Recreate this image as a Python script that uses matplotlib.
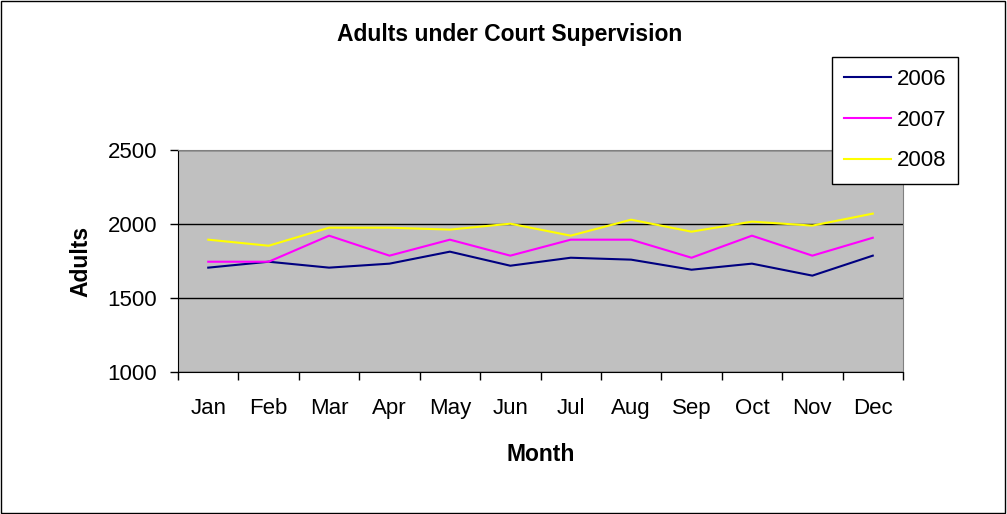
import matplotlib.pyplot as plt
from matplotlib.patches import Rectangle
from matplotlib.ticker import FixedLocator

plt.rcParams['font.family'] = ['Liberation Sans', 'DejaVu Sans']

months = ["Jan", "Feb", "Mar", "Apr", "May", "Jun",
          "Jul", "Aug", "Sep", "Oct", "Nov", "Dec"]
y2006 = [1705, 1745, 1705, 1732, 1813, 1718, 1772, 1759, 1691, 1732, 1651, 1786]
y2007 = [1745, 1745, 1921, 1786, 1894, 1786, 1894, 1894, 1772, 1921, 1786, 1907]
y2008 = [1894, 1853, 1975, 1975, 1962, 2002, 1921, 2029, 1948, 2016, 1989, 2070]


def main():
    fig = plt.figure(figsize=(10.07, 5.14), dpi=100)
    ax = fig.add_axes([0.1768, 0.2763, 0.7199, 0.4319])
    ax.set_facecolor("#C0C0C0")

    x = list(range(len(months)))
    ax.plot(x, y2006, color="#000080", lw=1.5, label="2006")
    ax.plot(x, y2007, color="#FF00FF", lw=1.5, label="2007")
    ax.plot(x, y2008, color="#FFFF00", lw=1.5, label="2008")

    ax.set_xlim(-0.5, 11.5)
    ax.set_ylim(1000, 2500)
    ax.set_yticks([1000, 1500, 2000, 2500])
    ax.set_xticks(x)
    ax.set_xticklabels(months)
    ax.xaxis.set_minor_locator(FixedLocator([i - 0.5 for i in range(13)]))
    ax.tick_params(axis='x', which='major', length=0, pad=19, labelsize=16)
    ax.tick_params(axis='x', which='minor', length=6, width=1, direction='out')
    ax.tick_params(axis='y', length=6, width=1, direction='out', pad=9,
                   labelsize=16)

    ax.grid(axis='y', color="#000000", lw=1)
    ax.set_axisbelow(True)
    for s in ["top", "right"]:
        ax.spines[s].set_color("#808080")
    for s in ["left", "bottom"]:
        ax.spines[s].set_color("#000000")

    ax.set_xlabel("Month", fontsize=16.5, fontweight="bold", labelpad=17)
    ax.set_ylabel("Adults", fontsize=16.5, fontweight="bold", labelpad=11)
    fig.text(0.5065, 0.932, "Adults under Court Supervision",
             ha="center", va="center", fontsize=16.5, fontweight="bold")

    leg = fig.legend(loc="upper left", bbox_to_anchor=(832 / 1007, 1 - 57 / 514),
                     fontsize=16, frameon=True, fancybox=False, framealpha=1,
                     handlelength=2.1, borderpad=0.55, labelspacing=0.88,
                     handletextpad=0.25, borderaxespad=0)
    leg.get_frame().set_edgecolor("black")
    leg.get_frame().set_linewidth(1)

    fig.patches.append(Rectangle((0.001, 0.002), 0.997, 0.996, fill=False,
                                 edgecolor="black", lw=1,
                                 transform=fig.transFigure, figure=fig))

    fig.savefig("out.png")


if __name__ == '__main__':
    main()
